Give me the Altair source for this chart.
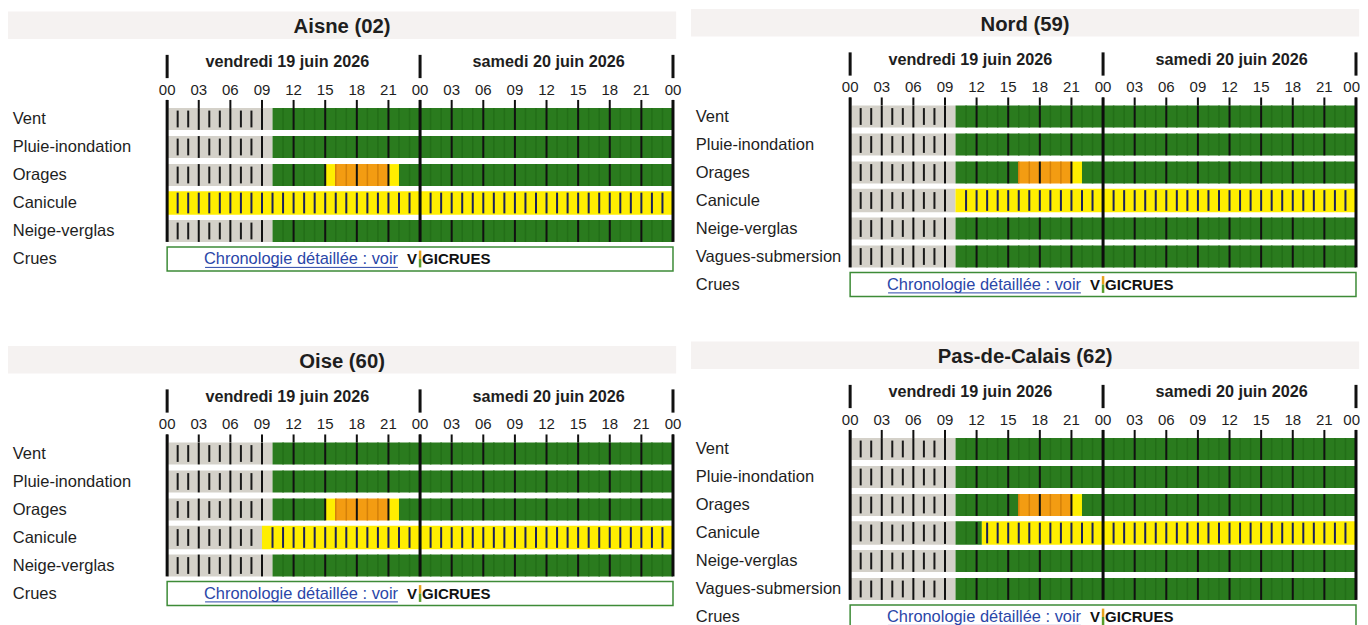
import altair as alt
import pandas as pd

FONT = "Liberation Sans"

# ---------------- data ----------------
hour_ticks = list(range(0, 49, 3))
hour_labels = ["00", "03", "06", "09", "12", "15", "18", "21",
               "00", "03", "06", "09", "12", "15", "18", "21", "00"]
day_bounds = [0, 24, 48]
day_labels = ["vendredi 19 juin 2026", "samedi 20 juin 2026"]
day_label_hours = [11.4, 36.2]

levels = ["past", "vert", "jaune", "orange"]
level_colors = ["#d4d1c9", "#2a7b1e", "#ffee00", "#f39c12"]

rows5 = ["Vent", "Pluie-inondation", "Orages", "Canicule", "Neige-verglas"]
rows6 = ["Vent", "Pluie-inondation", "Orages", "Canicule", "Neige-verglas", "Vagues-submersion"]

aisne_segments = {
    "Vent": [("past", 0, 10), ("vert", 10, 48)],
    "Pluie-inondation": [("past", 0, 10), ("vert", 10, 48)],
    "Orages": [("past", 0, 10), ("vert", 10, 15), ("jaune", 15, 16), ("orange", 16, 21),
               ("jaune", 21, 22), ("vert", 22, 48)],
    "Canicule": [("jaune", 0, 48)],
    "Neige-verglas": [("past", 0, 10), ("vert", 10, 48)],
}
oise_segments = {
    "Vent": [("past", 0, 10), ("vert", 10, 48)],
    "Pluie-inondation": [("past", 0, 10), ("vert", 10, 48)],
    "Orages": [("past", 0, 10), ("vert", 10, 15), ("jaune", 15, 16), ("orange", 16, 21),
               ("jaune", 21, 22), ("vert", 22, 48)],
    "Canicule": [("past", 0, 9), ("jaune", 9, 48)],
    "Neige-verglas": [("past", 0, 10), ("vert", 10, 48)],
}
nord_segments = {
    "Vent": [("past", 0, 10), ("vert", 10, 48)],
    "Pluie-inondation": [("past", 0, 10), ("vert", 10, 48)],
    "Orages": [("past", 0, 10), ("vert", 10, 16), ("orange", 16, 21), ("jaune", 21, 22),
               ("vert", 22, 48)],
    "Canicule": [("past", 0, 10), ("jaune", 10, 48)],
    "Neige-verglas": [("past", 0, 10), ("vert", 10, 48)],
    "Vagues-submersion": [("past", 0, 10), ("vert", 10, 48)],
}
pdc_segments = {
    "Vent": [("past", 0, 10), ("vert", 10, 48)],
    "Pluie-inondation": [("past", 0, 10), ("vert", 10, 48)],
    "Orages": [("past", 0, 10), ("vert", 10, 16), ("orange", 16, 21), ("jaune", 21, 22),
               ("vert", 22, 48)],
    "Canicule": [("past", 0, 10), ("vert", 10, 12.5), ("jaune", 12.5, 48)],
    "Neige-verglas": [("past", 0, 10), ("vert", 10, 48)],
    "Vagues-submersion": [("past", 0, 10), ("vert", 10, 48)],
}

crues_label = "Crues"
crues_text = "Chronologie détaillée : voir"
vigi_left = "V"
vigi_right = "GICRUES"

# ---------------- layout ----------------
XMIN = -15.1
LEFT_W = 675
LEFT_XMAX = 48.95
PXH = LEFT_W / (LEFT_XMAX - XMIN)
RIGHT_W = 669
RIGHT_XMAX = XMIN + RIGHT_W / PXH
ROW_PX = 28.0
HALF = 0.39
CAN_HALF = 0.42
BAND_TOP, BAND_BOT = -3.84, -2.86
TITLE_Y = -3.27
DAYTICK_TOP, DAYTICK_BOT = -2.29, -1.46
DAYLAB_Y = -2.03
HOURLAB_Y = -1.04
TICK_TOP = -0.68


def level_at(segs, t):
    for lv, a, b in segs:
        if a <= t < b:
            return lv
    return None


def build_panel(title, rows, segs, ytop, height, width, xmax):
    ybot = ytop + height / ROW_PX
    xs = alt.Scale(domain=[XMIN, xmax], nice=False, zero=False)
    ys = alt.Scale(domain=[ytop, ybot], nice=False, zero=False, reverse=True)

    def enc(x2=None, y2=None, **kw):
        e = dict(x=alt.X("x", type="quantitative", scale=xs, axis=None),
                 y=alt.Y("y", type="quantitative", scale=ys, axis=None))
        if x2:
            e["x2"] = alt.X2(x2)
        if y2:
            e["y2"] = alt.Y2(y2)
        e.update(kw)
        return e

    n = len(rows)
    crues_r = n
    band_end = min(xmax, 48.3)
    L = []

    # title band and title
    L.append(alt.Chart(pd.DataFrame({"x": [XMIN], "x2": [band_end], "y": [BAND_TOP], "y2": [BAND_BOT]}))
             .mark_rect(color="#f5f2f1").encode(**enc(x2="x2", y2="y2")))
    L.append(alt.Chart(pd.DataFrame({"x": [(XMIN + band_end) / 2], "y": [TITLE_Y], "t": [title]}))
             .mark_text(font=FONT, fontSize=20.3, fontWeight="bold", color="#1e1e1e", baseline="middle")
             .encode(**enc(text="t")))

    # day header
    L.append(alt.Chart(pd.DataFrame({"x": day_bounds, "y": [DAYTICK_TOP] * 3, "y2": [DAYTICK_BOT] * 3}))
             .mark_rule(color="#111111", strokeWidth=3).encode(**enc(y2="y2")))
    L.append(alt.Chart(pd.DataFrame({"x": day_label_hours, "y": [DAYLAB_Y] * 2, "t": day_labels}))
             .mark_text(font=FONT, fontSize=16.2, fontWeight="bold", color="#1e1e1e", baseline="middle")
             .encode(**enc(text="t")))

    # hour labels and ticks (the last label is kept inside the panel when the panel ends close to 48 h)
    fits = (xmax - 48) * PXH > 9
    hx = hour_ticks if fits else hour_ticks[:-1]
    hl = hour_labels if fits else hour_labels[:-1]
    L.append(alt.Chart(pd.DataFrame({"x": hx, "y": [HOURLAB_Y] * len(hx), "t": hl}))
             .mark_text(font=FONT, fontSize=15, color="#1e1e1e", baseline="middle")
             .encode(**enc(text="t")))
    if not fits:
        L.append(alt.Chart(pd.DataFrame({"x": [xmax], "y": [HOURLAB_Y], "t": [hour_labels[-1]]}))
                 .mark_text(font=FONT, fontSize=15, color="#1e1e1e", baseline="middle", align="right")
                 .encode(**enc(text="t")))
    L.append(alt.Chart(pd.DataFrame({"x": hour_ticks, "y": [TICK_TOP] * len(hour_ticks),
                                     "y2": [-HALF] * len(hour_ticks)}))
             .mark_rule(color="#111111", strokeWidth=2).encode(**enc(y2="y2")))

    # row labels
    labels = rows + [crues_label]
    L.append(alt.Chart(pd.DataFrame({"x": [XMIN + 0.45] * len(labels), "y": list(range(len(labels))),
                                     "t": labels}))
             .mark_text(font=FONT, fontSize=16.5, color="#1e1e1e", align="left", baseline="middle")
             .encode(**enc(text="t")))

    # bars
    bars = []
    for r, name in enumerate(rows):
        hh = CAN_HALF if name == "Canicule" else HALF
        for lv, a, b in segs[name]:
            bars.append({"x": a, "x2": b, "y": r - hh, "y2": r + hh, "level": lv})
    L.append(alt.Chart(pd.DataFrame(bars)).mark_rect().encode(
        **enc(x2="x2", y2="y2",
              color=alt.Color("level:N", scale=alt.Scale(domain=levels, range=level_colors), legend=None))))

    # hourly lines
    kinds = {"past": [], "vert": [], "orange": [], "canicule": [], "major": []}
    lens = {"past": 0.30, "vert": HALF, "orange": HALF, "canicule": 0.37, "major": HALF}
    for r, name in enumerate(rows):
        s = segs[name]
        for h in range(1, 48):
            if h == 24:
                continue
            right = level_at(s, h + 0.01)
            left = level_at(s, h - 0.01)
            is_can = name == "Canicule" and right == "jaune"
            if is_can:
                if left == "jaune":
                    kinds["canicule"].append((h, r))
                continue
            if h % 3 == 0:
                kinds["major"].append((h, r))
                continue
            if right == "past" and left == "past":
                kinds["past"].append((h, r))
            elif right == "vert" and left == "vert":
                kinds["vert"].append((h, r))
            elif right == "orange":
                kinds["orange"].append((h, r))
    styles = {"past": ("#1a1a1a", 2), "vert": ("#236f18", 1.5), "orange": ("#d4800a", 1.5),
              "canicule": ("#1c2259", 2), "major": ("#111111", 2)}
    for k, pts in kinds.items():
        if not pts:
            continue
        d = pd.DataFrame({"x": [p[0] for p in pts],
                          "y": [p[1] - lens[k] for p in pts],
                          "y2": [p[1] + lens[k] for p in pts]})
        col, sw = styles[k]
        L.append(alt.Chart(d).mark_rule(color=col, strokeWidth=sw).encode(**enc(y2="y2")))

    # crues box
    L.append(alt.Chart(pd.DataFrame({"x": [0], "x2": [48], "y": [crues_r - 0.43], "y2": [crues_r + 0.43]}))
             .mark_rect(fill="white", stroke="#3d8b37", strokeWidth=1.5)
             .encode(**enc(x2="x2", y2="y2")))
    L.append(alt.Chart(pd.DataFrame({"x": [24], "y": [crues_r], "t": [crues_text]}))
             .mark_text(font=FONT, fontSize=16.4, color="#2a46a8", align="right", baseline="middle", dx=-22)
             .encode(**enc(text="t")))
    L.append(alt.Chart(pd.DataFrame({"x": [3.6], "x2": [21.9], "y": [crues_r + 0.3]}))
             .mark_rule(color="#2a46a8", strokeWidth=1).encode(**enc(x2="x2")))
    L.append(alt.Chart(pd.DataFrame({"x": [24], "y": [crues_r], "t": [vigi_left]}))
             .mark_text(font=FONT, fontSize=15, fontWeight="bold", color="#111111", align="right",
                        baseline="middle", dx=-3)
             .encode(**enc(text="t")))
    L.append(alt.Chart(pd.DataFrame({"x": [24], "y": [crues_r], "t": [vigi_right]}))
             .mark_text(font=FONT, fontSize=15, fontWeight="bold", color="#111111", align="left",
                        baseline="middle", dx=2)
             .encode(**enc(text="t")))
    L.append(alt.Chart(pd.DataFrame({"x": [24], "y": [crues_r - 0.3], "y2": [crues_r]}))
             .mark_rule(color="#e6a21c", strokeWidth=2.5).encode(**enc(y2="y2")))
    L.append(alt.Chart(pd.DataFrame({"x": [24], "y": [crues_r], "y2": [crues_r + 0.3]}))
             .mark_rule(color="#5a9e2c", strokeWidth=2.5).encode(**enc(y2="y2")))

    # day boundary lines
    L.append(alt.Chart(pd.DataFrame({"x": day_bounds, "y": [TICK_TOP] * 3, "y2": [n - 1 + HALF] * 3}))
             .mark_rule(color="#0d0d0d", strokeWidth=3).encode(**enc(y2="y2")))

    return alt.layer(*L).properties(width=width, height=height)


TOP_H = 330
aisne = build_panel("Aisne (02)", rows5, aisne_segments, -3.964, TOP_H, LEFT_W, LEFT_XMAX)
nord = build_panel("Nord (59)", rows6, nord_segments, -3.875, TOP_H, RIGHT_W, RIGHT_XMAX)
oise = build_panel("Oise (60)", rows5, oise_segments, -4.125, 272, LEFT_W, LEFT_XMAX)
pdc = build_panel("Pas-de-Calais (62)", rows6, pdc_segments, -3.964, 287, RIGHT_W, RIGHT_XMAX)

top = alt.hconcat(aisne, nord, spacing=8)
bottom = alt.hconcat(oise, pdc, spacing=8)
chart = alt.vconcat(top, bottom, spacing=0).properties(padding=0).configure_view(stroke=None)

chart.save("out.html", embed_options={"renderer": "svg", "actions": False})
